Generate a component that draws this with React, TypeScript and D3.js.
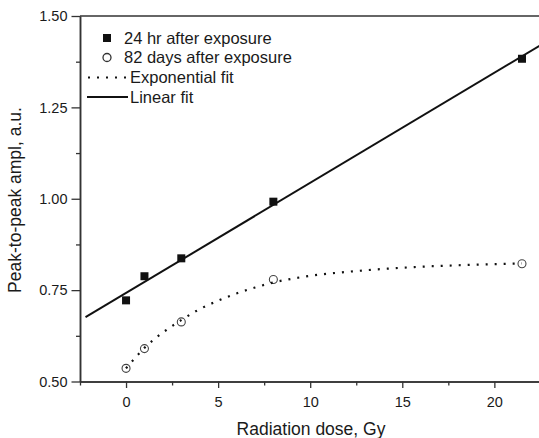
import { useEffect, useRef } from 'react';
import * as d3 from 'd3';

// Measured points (dose in Gy, peak-to-peak amplitude in a.u.)
const dose = [0, 1, 3, 8, 21.5];
const amp24h = [0.722, 0.788, 0.837, 0.992, 1.383];
const amp82d = [0.536, 0.59, 0.663, 0.779, 0.822];

// Fit curves
const linFitX = [-2.2, 22.5];
const linFitY = [0.676, 1.42];
const expFitX = [0, 0.5, 1, 2, 3, 4, 5, 6, 7, 8, 9, 10, 12, 14, 16, 18, 20, 21.5];
const expFitY = [0.536, 0.565, 0.592, 0.634, 0.668, 0.698, 0.721, 0.741, 0.757, 0.771, 0.781, 0.789, 0.8, 0.808, 0.814, 0.818, 0.821, 0.823];

const xTicks = [0, 5, 10, 15, 20];
const xMinor = [-2.5, 2.5, 7.5, 12.5, 17.5];
const yTicks = [0.5, 0.75, 1.0, 1.25, 1.5];
const yMinor = [0.625, 0.875, 1.125, 1.375];

const legendLabels = ['24 hr after exposure', '82 days after exposure', 'Exponential fit', 'Linear fit'];

const W = 539;
const H = 438;
const FONT = '"Liberation Sans", Arial, Helvetica, sans-serif';

export default function App() {
  const svgRef = useRef<SVGSVGElement>(null);

  useEffect(() => {
    if (!svgRef.current) return;
    const svg = d3.select(svgRef.current);
    svg.selectAll('*').remove();

    const x = d3.scaleLinear().domain([-2.5, 22.5]).range([80, 540.4]);
    const y = d3.scaleLinear().domain([0.5, 1.5]).range([381.5, 16]);
    const ink = '#1a1a1a';

    svg.append('rect').attr('width', W).attr('height', H).attr('fill', '#fff');

    // clip to plot area
    svg.append('defs').append('clipPath').attr('id', 'plot')
      .append('rect').attr('x', 80).attr('y', 16).attr('width', 460.4).attr('height', 365.5);

    // frame top / right
    svg.append('line')
      .attr('x1', 80).attr('x2', 540.4).attr('y1', 16).attr('y2', 16)
      .attr('stroke', '#333').attr('stroke-width', 1.5);
    svg.append('line')
      .attr('x1', 539.5).attr('x2', 539.5).attr('y1', 16).attr('y2', 381.5)
      .attr('stroke', '#bbb').attr('stroke-width', 1);

    // axes
    const styleAxis = (g: d3.Selection<SVGGElement, unknown, null, undefined>) => {
      g.select('.domain').attr('stroke', '#333').attr('stroke-width', 1.5);
      g.selectAll('.tick line').attr('stroke', '#333').attr('stroke-width', 1.3);
      g.selectAll('.tick text').attr('fill', ink).attr('font-size', 14.5).attr('font-family', FONT);
    };

    svg.append('g')
      .attr('transform', 'translate(0,381.5)')
      .call(d3.axisBottom(x).tickValues(xMinor).tickSize(4).tickSizeOuter(0).tickFormat(() => ''))
      .call(styleAxis);
    svg.append('g')
      .attr('transform', 'translate(0,381.5)')
      .call(d3.axisBottom(x).tickValues(xTicks).tickSize(6.5).tickSizeOuter(0).tickPadding(9).tickFormat(d3.format('d')))
      .call(styleAxis);

    svg.append('g')
      .attr('transform', 'translate(80,0)')
      .call(d3.axisLeft(y).tickValues(yMinor).tickSize(4).tickSizeOuter(0).tickFormat(() => ''))
      .call(styleAxis);
    svg.append('g')
      .attr('transform', 'translate(80,0)')
      .call(d3.axisLeft(y).tickValues(yTicks).tickSize(8.5).tickSizeOuter(0).tickPadding(4).tickFormat(d3.format('.2f')))
      .call(styleAxis);

    // axis titles
    svg.append('text')
      .attr('x', 311).attr('y', 435)
      .attr('text-anchor', 'middle')
      .attr('font-size', 17.5).attr('font-family', FONT).attr('fill', ink)
      .text('Radiation dose, Gy');
    svg.append('text')
      .attr('transform', 'translate(21,200) rotate(-90)')
      .attr('text-anchor', 'middle')
      .attr('font-size', 17.5).attr('font-family', FONT).attr('fill', ink)
      .text('Peak-to-peak ampl, a.u.');

    const plot = svg.append('g').attr('clip-path', 'url(#plot)');

    // linear fit
    const linePts = linFitX.map((v, i) => [v, linFitY[i]] as [number, number]);
    plot.append('path')
      .datum(linePts)
      .attr('d', d3.line().x(d => x(d[0])).y(d => y(d[1])))
      .attr('fill', 'none').attr('stroke', '#111').attr('stroke-width', 2);

    // 82-day points (open circles)
    plot.selectAll('circle.d82')
      .data(dose)
      .join('circle')
      .attr('class', 'd82')
      .attr('cx', d => x(d))
      .attr('cy', (_, i) => y(amp82d[i]))
      .attr('r', 4)
      .attr('fill', '#fff').attr('stroke', '#444').attr('stroke-width', 1.1);

    // exponential fit (dotted)
    const expPts = expFitX.map((v, i) => [v, expFitY[i]] as [number, number]);
    plot.append('path')
      .datum(expPts)
      .attr('d', d3.line().x(d => x(d[0])).y(d => y(d[1])).curve(d3.curveMonotoneX))
      .attr('fill', 'none').attr('stroke', '#111').attr('stroke-width', 2.2)
      .attr('stroke-dasharray', '2 7');

    // 24-hr points (filled squares)
    plot.selectAll('rect.d24')
      .data(dose)
      .join('rect')
      .attr('class', 'd24')
      .attr('x', d => x(d) - 4)
      .attr('y', (_, i) => y(amp24h[i]) - 4)
      .attr('width', 8).attr('height', 8)
      .attr('fill', '#111');

    // legend
    const lg = svg.append('g').attr('font-family', FONT).attr('font-size', 16.5).attr('fill', ink);
    const rowY = [38, 57.5, 77.5, 97];
    lg.append('rect').attr('x', 103).attr('y', rowY[0] - 4).attr('width', 8).attr('height', 8).attr('fill', '#111');
    lg.append('circle').attr('cx', 107).attr('cy', rowY[1]).attr('r', 4)
      .attr('fill', '#fff').attr('stroke', '#333').attr('stroke-width', 1.3);
    lg.append('line').attr('x1', 88).attr('x2', 128).attr('y1', rowY[2]).attr('y2', rowY[2])
      .attr('stroke', '#111').attr('stroke-width', 2.2).attr('stroke-dasharray', '2 7');
    lg.append('line').attr('x1', 87).attr('x2', 128).attr('y1', rowY[3]).attr('y2', rowY[3])
      .attr('stroke', '#111').attr('stroke-width', 2);
    legendLabels.forEach((label, i) => {
      lg.append('text')
        .attr('x', i < 2 ? 124 : 130)
        .attr('y', rowY[i])
        .attr('dy', '0.35em')
        .text(label);
    });
  }, []);

  return (
    <svg
      ref={svgRef}
      width={W}
      height={H}
      style={{ position: 'fixed', left: 0, top: 0, display: 'block' }}
    />
  );
}
